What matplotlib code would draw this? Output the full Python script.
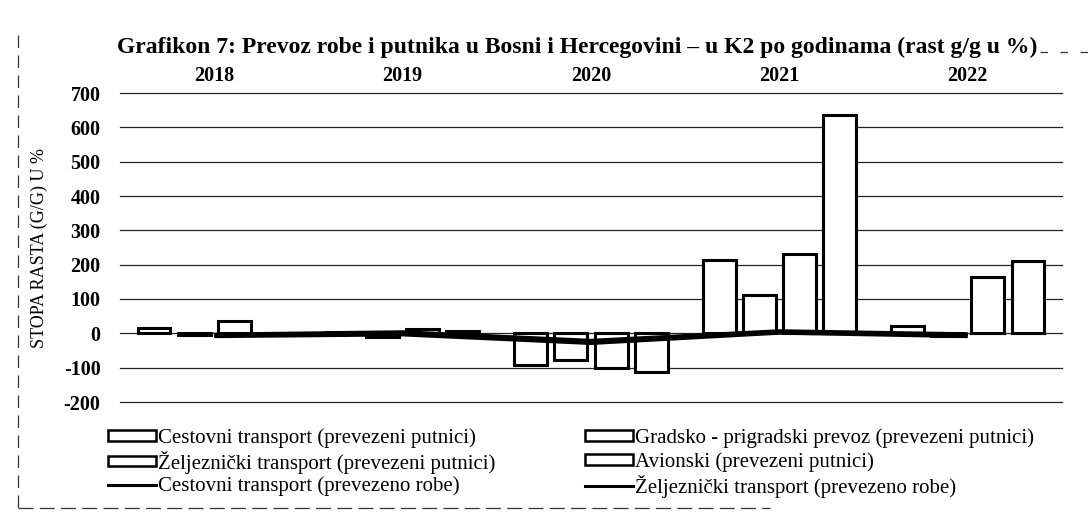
import numpy as np
import matplotlib
matplotlib.use("Agg")
import matplotlib.pyplot as plt
from matplotlib.patches import Patch
from matplotlib.lines import Line2D

plt.rcParams['font.family'] = ['Liberation Serif', 'DejaVu Serif']

years = ["2018", "2019", "2020", "2021", "2022"]
cestovni_putnici = [15, 5, -93, 215, 22]
gradsko_putnici = [-5, -12, -78, 112, -8]
zeljeznicki_putnici = [35, 12, -100, 232, 165]
avionski_putnici = [-3, 6, -113, 635, 210]
cestovni_robe = [-4, 3, -22, 6, -3]
zeljeznicki_robe = [-8, -3, -28, 2, -8]

bar_series = [
    ("Cestovni transport (prevezeni putnici)", cestovni_putnici),
    ("Gradsko - prigradski prevoz (prevezeni putnici)", gradsko_putnici),
    ("Željeznički transport (prevezeni putnici)", zeljeznicki_putnici),
    ("Avionski (prevezeni putnici)", avionski_putnici),
]
line_series = [
    ("Cestovni transport (prevezeno robe)", cestovni_robe),
    ("Željeznički transport (prevezeno robe)", zeljeznicki_robe),
]
yticks = [-200, -100, 0, 100, 200, 300, 400, 500, 600, 700]

W, H = 1091, 515
fig = plt.figure(figsize=(W / 100, H / 100), dpi=100)
ax = fig.add_axes([120/W, 1-402/H, (1062-120)/W, (402-93)/H])

x = np.arange(len(years))
step = 0.213
width = 0.175
for yv in yticks:
    ax.axhline(yv, color='#222222', lw=0.9, zorder=1, clip_on=False)

handles = {}
for i, (name, vals) in enumerate(bar_series):
    ax.bar(x + (i - 1.5) * step, vals, width=width, facecolor='white',
           edgecolor='black', linewidth=2.2, zorder=2)
    handles[name] = Patch(facecolor='white', edgecolor='black', linewidth=1.8)
for name, vals in line_series:
    ax.plot(x, vals, color='black', lw=3.0, zorder=3, solid_capstyle='butt')
    handles[name] = Line2D([], [], color='black', lw=2.2)

ax.set_xlim(-0.5, len(years) - 0.5)
ax.set_ylim(-200, 700)
ax.set_yticks(yticks)
ax.set_yticklabels([str(v) if v >= 0 else "-" + str(-v) for v in yticks],
                   fontsize=14.5, fontweight='bold')
ax.xaxis.tick_top()
ax.set_xticks(x)
ax.set_xticklabels(years, fontsize=14.5, fontweight='bold')
ax.tick_params(axis='both', length=0)
ax.tick_params(axis='x', pad=5)
ax.tick_params(axis='y', pad=14)
for s in ax.spines.values():
    s.set_visible(False)
ax.set_ylabel("STOPA RASTA (G/G) U %", fontsize=13)
ax.yaxis.set_label_coords((48 - 120) / (1062 - 120), (402 - 248) / (402 - 93))

fig.text(577/W, 1 - 47/H,
         "Grafikon 7: Prevoz robe i putnika u Bosni i Hercegovini – u K2 po godinama (rast g/g u %)",
         ha='center', va='center', fontsize=17, fontweight='bold')

legend_layout = [
    (bar_series[0][0], 104, 438), (bar_series[1][0], 581, 438),
    (bar_series[2][0], 104, 462), (bar_series[3][0], 581, 462),
    (line_series[0][0], 104, 486), (line_series[1][0], 581, 486),
]
for name, lx, ly in legend_layout:
    fig.legend([handles[name]], [name], loc='center left',
               bbox_to_anchor=(lx/W, 1 - ly/H), frameon=False,
               fontsize=15, handlelength=2.3, handleheight=0.4,
               handletextpad=0.1, borderaxespad=0, borderpad=0.2)

# outer chart frame (partially visible in scan)
fig.add_artist(Line2D([18/W, 18/W], [1 - 35/H, 1 - 508/H],
                      color='#333333', lw=0.9, ls=(0, (10, 6))))
fig.add_artist(Line2D([18/W, 770/W], [1 - 508/H, 1 - 508/H],
                      color='#333333', lw=0.9, ls=(0, (12, 5))))
fig.add_artist(Line2D([1040/W, 1088/W], [1 - 52/H, 1 - 52/H],
                      color='#333333', lw=0.9, ls=(0, (6, 10))))

fig.savefig("out.png", dpi=100, facecolor='white')
